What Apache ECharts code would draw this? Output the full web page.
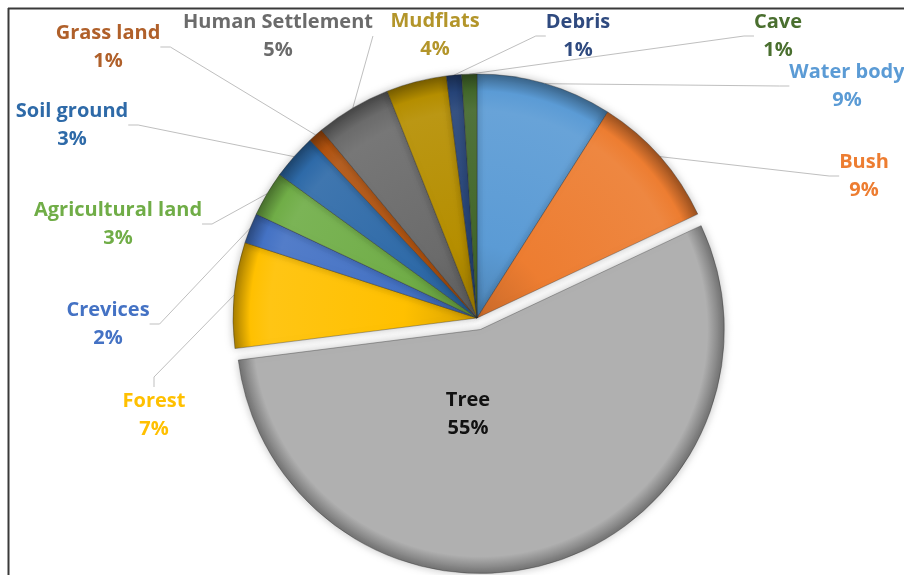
<!DOCTYPE html>
<html>
<head>
<meta charset="utf-8">
<script src="https://cdn.jsdelivr.net/npm/echarts@6/dist/echarts.min.js"></script>
<style>
html,body{margin:0;padding:0;background:#fff;}
#chart{width:904px;height:575px;}
</style>
</head>
<body>
<div id="chart"></div>
<script>
// ---- data ----
var categories = ['Water body','Bush','Tree','Forest','Crevices','Agricultural land','Soil ground','Grass land','Human Settlement','Mudflats','Debris','Cave'];
var percentValues = [9, 9, 55, 7, 2, 3, 3, 1, 5, 4, 1, 1];
var explodedCategory = 'Tree';
var noLeaderLine = ['Tree', 'Mudflats'];
var sliceColors = ['#5b9bd5','#ed7d31','#b0b0b0','#ffc000','#4472c4','#70ad47','#2e6aa8','#b0520f','#6b6b6b','#b58e00','#264478','#43682b'];
var labelColors = ['#5b9bd5','#ed7d31','#111111','#ffc000','#4472c4','#70ad47','#2e6aa8','#b0602a','#6b6b6b','#b3952a','#2f4a7f','#4a6f2f'];

// ---- layout (label block centres, pixels) ----
var labelCenters = [
  [847, 86], [864, 176], [468, 414], [154, 415], [108, 324], [118, 224],
  [72, 125], [108, 47], [278, 36], [435, 35], [578, 36], [778, 36]
];
var pieCenter = [477, 318];
var pieRadius = 244;
var explodeOffset = 12;

function shade(hex, f) {
  var n = parseInt(hex.slice(1), 16);
  var r = (n >> 16) & 255, g = (n >> 8) & 255, b = n & 255;
  function c(v){ return Math.max(0, Math.min(255, Math.round(f < 0 ? v * (1 + f) : v + (255 - v) * f))); }
  return 'rgb(' + c(r) + ',' + c(g) + ',' + c(b) + ')';
}

// offset of the exploded slice along its mid angle (clockwise from 12 o'clock)
var total = percentValues.reduce(function (a, b) { return a + b; }, 0);
var exIdx = categories.indexOf(explodedCategory);
var before = 0;
for (var k = 0; k < exIdx; k++) before += percentValues[k];
var midAngle = (before + percentValues[exIdx] / 2) / total * 2 * Math.PI;
var exCenter = [pieCenter[0] + explodeOffset * Math.sin(midAngle), pieCenter[1] - explodeOffset * Math.cos(midAngle)];

function fillFor(base, c, isTree) {
  return {
    type: 'radial', x: c[0], y: c[1], r: pieRadius, global: true,
    colorStops: [
      {offset: 0, color: isTree ? base : shade(base, -0.15)},
      {offset: 0.3, color: base},
      {offset: 0.85, color: isTree ? base : shade(base, 0.08)},
      {offset: 0.93, color: base},
      {offset: 1, color: shade(base, -0.35)}
    ]
  };
}

var hidden = { color: 'rgba(0,0,0,0)', borderWidth: 0, shadowBlur: 0, shadowColor: 'rgba(0,0,0,0)' };

var mainData = categories.map(function (name, i) {
  if (i === exIdx) {
    return { name: name, value: percentValues[i], itemStyle: hidden, label: { show: false }, labelLine: { show: false } };
  }
  var item = { name: name, value: percentValues[i], itemStyle: { color: fillFor(sliceColors[i], pieCenter, false) }, label: { color: labelColors[i] } };
  if (noLeaderLine.indexOf(name) >= 0) item.labelLine = { show: false };
  return item;
});
var explodedData = categories.map(function (name, i) {
  if (i !== exIdx) {
    return { name: name, value: percentValues[i], itemStyle: hidden, label: { show: false }, labelLine: { show: false } };
  }
  return { name: name, value: percentValues[i], itemStyle: { color: fillFor(sliceColors[i], exCenter, true) }, label: { color: labelColors[i] }, labelLine: { show: false } };
});

var labelStyle = {
  show: true,
  position: 'outside',
  formatter: '{b}\n{c}%',
  fontFamily: '"Open Sans", Lato, sans-serif',
  fontWeight: 'bold',
  fontSize: 20,
  lineHeight: 28,
  align: 'center'
};
function layoutFn(params) {
  var p = labelCenters[params.dataIndex];
  return { x: p[0], y: p[1], align: 'center', verticalAlign: 'middle' };
}
var commonItem = {
  borderColor: 'rgba(40,40,40,0.35)',
  borderWidth: 1,
  shadowBlur: 8,
  shadowColor: 'rgba(0,0,0,0.25)'
};

var chart = echarts.init(document.getElementById('chart'), null, {renderer: 'canvas'});
chart.setOption({
  animation: false,
  backgroundColor: '#ffffff',
  graphic: [
    {type: 'line', shape: {x1: 8, y1: 8.5, x2: 904, y2: 8.5}, style: {stroke: '#3a3a3a', lineWidth: 2}, silent: true},
    {type: 'line', shape: {x1: 8.5, y1: 8, x2: 8.5, y2: 575}, style: {stroke: '#3a3a3a', lineWidth: 2}, silent: true}
  ],
  series: [{
    type: 'pie',
    center: exCenter,
    radius: pieRadius,
    startAngle: 90,
    clockwise: true,
    avoidLabelOverlap: false,
    silent: true,
    emphasis: { disabled: true },
    itemStyle: commonItem,
    label: labelStyle,
    labelLine: { show: false },
    labelLayout: layoutFn,
    data: explodedData
  }, {
    type: 'pie',
    center: pieCenter,
    radius: pieRadius,
    startAngle: 90,
    clockwise: true,
    avoidLabelOverlap: false,
    silent: true,
    emphasis: { disabled: true },
    itemStyle: commonItem,
    label: labelStyle,
    labelLine: {
      show: true,
      length: 10,
      length2: 10,
      lineStyle: { color: '#bfbfbf', width: 1 }
    },
    labelLayout: layoutFn,
    data: mainData
  }]
});
</script>
</body>
</html>
